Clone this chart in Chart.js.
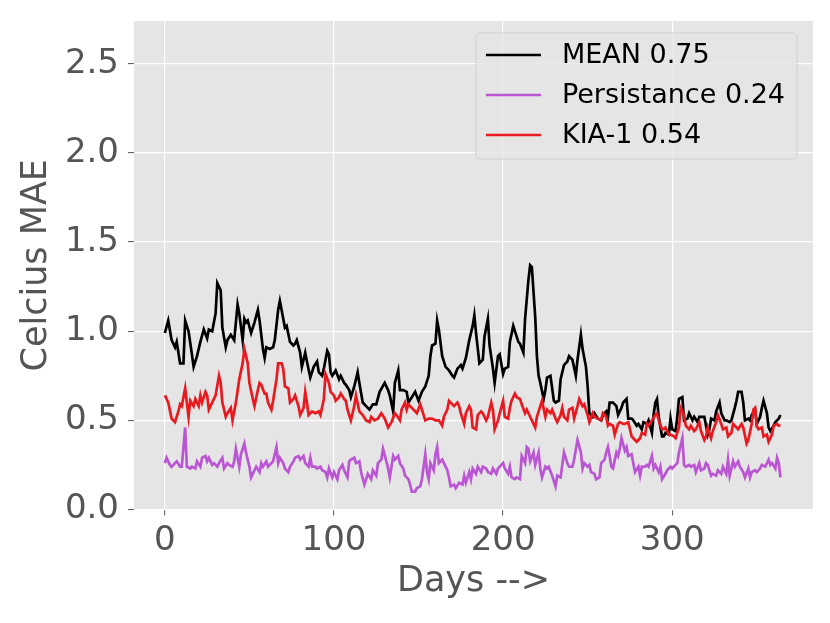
<!DOCTYPE html>
<html>
<head>
<meta charset="utf-8">
<script src="https://cdn.jsdelivr.net/npm/chart.js@4.4.1/dist/chart.umd.min.js"></script>
<style>
  html, body { margin: 0; padding: 0; background: #fff; }
  #wrap { width: 830px; height: 623px; }
</style>
</head>
<body>
<div id="wrap"><canvas id="grafico"></canvas></div>
<script>
// valores (dia, erro medio em Celsius)
const meanDays = [
  0, 2, 4, 6, 7, 9, 11, 12, 14, 16,
  17, 19, 21, 23, 25, 26, 28, 30, 31, 33,
  34, 36, 37, 39, 41, 43, 44, 46, 47, 48,
  49, 51, 53, 55, 56, 58, 59, 60, 62, 64,
  65, 67, 68, 69, 71, 72, 74, 76, 77, 78,
  80, 81, 83, 84, 86, 88, 90, 91, 93, 94,
  96, 97, 98, 99, 101, 103, 104, 106, 107, 109,
  110, 112, 114, 115, 117, 119, 121, 123, 125, 127,
  130, 132, 133, 135, 136, 138, 139, 141, 143, 144,
  146, 148, 150, 152, 154, 156, 157, 158, 160, 161,
  162, 164, 166, 168, 170, 171, 173, 175, 176, 178,
  180, 182, 183, 184, 186, 188, 189, 191, 192, 194,
  195, 197, 198, 200, 201, 203, 204, 206, 207, 209,
  210, 212, 213, 215, 216, 217, 219, 220, 221, 222,
  224, 225, 226, 228, 230, 231, 233, 234, 236, 238,
  239, 241, 243, 244, 246, 247, 249, 250, 251, 253,
  254, 256, 258, 259, 261, 262, 263, 265, 267, 268,
  270, 271, 273, 274, 276, 277, 279, 280, 282, 283,
  285, 286, 288, 289, 290, 291, 292, 294, 295, 296,
  298, 299, 300, 302, 303, 304, 306, 307, 309, 310,
  312, 313, 315, 316, 318, 319, 321, 322, 323, 325,
  326, 328, 329, 331, 332, 334, 335, 337, 338, 339,
  341, 342, 343, 345, 346, 347, 349, 350, 352, 353,
  354, 356, 357, 358, 360, 361, 363, 364
];
const meanMae = [
  0.99, 1.06, 0.95, 0.91, 0.94, 0.82, 0.82, 1.06, 1.00, 0.87,
  0.80, 0.86, 0.94, 1.01, 0.96, 1.01, 1.00, 1.10, 1.27, 1.23,
  1.02, 0.91, 0.95, 0.98, 0.95, 1.15, 1.10, 0.95, 1.07, 1.05,
  1.06, 0.99, 1.05, 1.12, 1.06, 0.90, 0.85, 0.91, 0.90, 0.91,
  0.95, 1.12, 1.17, 1.12, 1.02, 1.03, 0.94, 0.92, 0.93, 0.95,
  0.88, 0.80, 0.88, 0.83, 0.74, 0.80, 0.83, 0.77, 0.75, 0.79,
  0.89, 0.87, 0.77, 0.75, 0.78, 0.73, 0.75, 0.71, 0.70, 0.67,
  0.63, 0.69, 0.77, 0.71, 0.60, 0.58, 0.56, 0.59, 0.59, 0.66,
  0.71, 0.67, 0.64, 0.55, 0.71, 0.78, 0.67, 0.67, 0.66, 0.60,
  0.63, 0.66, 0.61, 0.66, 0.69, 0.75, 0.86, 0.92, 0.93, 1.06,
  1.01, 0.86, 0.80, 0.78, 0.75, 0.74, 0.79, 0.81, 0.79, 0.85,
  0.95, 1.03, 1.09, 0.99, 0.82, 0.84, 0.97, 1.07, 0.92, 0.79,
  0.71, 0.86, 0.87, 0.76, 0.79, 0.80, 0.94, 1.03, 1.00, 0.94,
  0.93, 0.88, 1.07, 1.29, 1.37, 1.36, 1.08, 0.86, 0.75, 0.71,
  0.62, 0.67, 0.74, 0.75, 0.61, 0.60, 0.61, 0.73, 0.81, 0.83,
  0.86, 0.84, 0.75, 0.84, 0.98, 0.90, 0.80, 0.69, 0.54, 0.52,
  0.54, 0.51, 0.50, 0.53, 0.55, 0.52, 0.60, 0.60, 0.58, 0.53,
  0.57, 0.60, 0.62, 0.51, 0.51, 0.50, 0.47, 0.48, 0.45, 0.49,
  0.48, 0.50, 0.43, 0.53, 0.60, 0.62, 0.52, 0.41, 0.41, 0.43,
  0.42, 0.51, 0.45, 0.44, 0.52, 0.62, 0.63, 0.50, 0.51, 0.54,
  0.50, 0.52, 0.49, 0.52, 0.52, 0.52, 0.42, 0.45, 0.51, 0.50,
  0.55, 0.60, 0.54, 0.50, 0.50, 0.49, 0.50, 0.57, 0.61, 0.66,
  0.66, 0.60, 0.50, 0.51, 0.50, 0.53, 0.56, 0.48, 0.52, 0.57,
  0.61, 0.54, 0.46, 0.44, 0.47, 0.49, 0.51, 0.53
];

const persDays = [
  0, 1, 3, 4, 6, 7, 9, 10, 12, 13,
  15, 16, 18, 19, 21, 22, 24, 25, 26, 28,
  29, 31, 32, 34, 35, 37, 38, 40, 41, 42,
  44, 45, 47, 48, 50, 51, 53, 54, 56, 57,
  58, 60, 61, 63, 64, 66, 67, 68, 70, 71,
  73, 74, 76, 77, 79, 80, 82, 83, 85, 86,
  87, 89, 90, 92, 93, 95, 96, 97, 99, 100,
  102, 103, 105, 106, 108, 109, 110, 112, 113, 115,
  116, 118, 120, 122, 123, 125, 126, 128, 129, 131,
  132, 133, 135, 136, 138, 139, 141, 142, 144, 145,
  146, 148, 149, 151, 152, 154, 155, 156, 157, 159,
  160, 161, 162, 164, 165, 167, 168, 169, 171, 172,
  174, 176, 177, 178, 180, 181, 182, 184, 185, 187,
  188, 190, 191, 193, 194, 196, 197, 199, 200, 201,
  203, 204, 205, 207, 208, 210, 211, 213, 214, 215,
  216, 218, 219, 221, 222, 223, 225, 226, 227, 229,
  231, 232, 234, 235, 236, 238, 239, 241, 242, 244,
  246, 247, 248, 250, 251, 252, 254, 255, 257, 258,
  260, 261, 262, 263, 264, 265, 267, 268, 269, 270,
  272, 273, 274, 276, 277, 278, 280, 281, 282, 284,
  285, 286, 288, 289, 290, 292, 293, 294, 296, 297,
  299, 300, 302, 303, 304, 306, 307, 308, 310, 311,
  313, 314, 316, 317, 319, 320, 321, 323, 324, 326,
  327, 329, 330, 332, 333, 334, 336, 337, 339, 340,
  342, 343, 345, 346, 347, 349, 350, 352, 353, 355,
  357, 358, 359, 361, 362, 363, 364
];
const persMae = [
  0.26, 0.29, 0.25, 0.24, 0.26, 0.27, 0.24, 0.24, 0.46, 0.24,
  0.23, 0.24, 0.23, 0.27, 0.24, 0.29, 0.30, 0.27, 0.29, 0.25,
  0.26, 0.24, 0.26, 0.29, 0.23, 0.26, 0.25, 0.24, 0.27, 0.34,
  0.24, 0.31, 0.37, 0.32, 0.24, 0.18, 0.22, 0.24, 0.21, 0.26,
  0.24, 0.27, 0.24, 0.26, 0.27, 0.35, 0.26, 0.29, 0.26, 0.23,
  0.21, 0.24, 0.27, 0.29, 0.30, 0.28, 0.30, 0.26, 0.24, 0.29,
  0.24, 0.24, 0.23, 0.24, 0.22, 0.21, 0.18, 0.23, 0.18, 0.21,
  0.17, 0.22, 0.25, 0.22, 0.18, 0.27, 0.28, 0.29, 0.26, 0.27,
  0.21, 0.14, 0.20, 0.17, 0.22, 0.19, 0.26, 0.28, 0.34, 0.27,
  0.23, 0.18, 0.30, 0.28, 0.30, 0.26, 0.23, 0.19, 0.17, 0.14,
  0.10, 0.10, 0.12, 0.13, 0.17, 0.31, 0.21, 0.17, 0.26, 0.22,
  0.31, 0.35, 0.26, 0.28, 0.26, 0.22, 0.18, 0.13, 0.14, 0.12,
  0.15, 0.14, 0.19, 0.15, 0.21, 0.17, 0.23, 0.20, 0.24, 0.21,
  0.24, 0.23, 0.21, 0.20, 0.23, 0.20, 0.23, 0.25, 0.26, 0.23,
  0.20, 0.24, 0.18, 0.17, 0.18, 0.17, 0.30, 0.26, 0.35, 0.34,
  0.27, 0.32, 0.25, 0.32, 0.23, 0.18, 0.24, 0.23, 0.24, 0.19,
  0.13, 0.19, 0.18, 0.25, 0.32, 0.26, 0.24, 0.24, 0.28, 0.39,
  0.32, 0.23, 0.26, 0.24, 0.25, 0.21, 0.20, 0.17, 0.18, 0.26,
  0.28, 0.32, 0.35, 0.30, 0.24, 0.23, 0.32, 0.30, 0.34, 0.40,
  0.33, 0.35, 0.30, 0.31, 0.26, 0.21, 0.24, 0.19, 0.24, 0.24,
  0.25, 0.24, 0.30, 0.23, 0.25, 0.21, 0.24, 0.17, 0.20, 0.22,
  0.24, 0.23, 0.25, 0.26, 0.32, 0.40, 0.25, 0.24, 0.25, 0.24,
  0.25, 0.21, 0.26, 0.22, 0.23, 0.26, 0.25, 0.19, 0.20, 0.19,
  0.22, 0.20, 0.24, 0.20, 0.28, 0.19, 0.27, 0.24, 0.27, 0.24,
  0.21, 0.18, 0.23, 0.18, 0.21, 0.22, 0.21, 0.23, 0.25, 0.24,
  0.28, 0.25, 0.26, 0.23, 0.29, 0.26, 0.18
];

const kiaDays = [
  0, 2, 4, 6, 8, 9, 10, 12, 14, 15,
  17, 18, 20, 21, 22, 24, 25, 26, 28, 30,
  32, 33, 34, 36, 37, 39, 40, 42, 44, 46,
  47, 49, 50, 52, 53, 55, 56, 57, 59, 60,
  61, 63, 64, 66, 67, 69, 70, 71, 73, 74,
  76, 77, 79, 80, 82, 83, 84, 85, 87, 89,
  91, 92, 94, 95, 97, 98, 100, 101, 103, 104,
  106, 107, 108, 110, 112, 113, 115, 117, 119, 121,
  122, 124, 126, 128, 130, 132, 134, 136, 137, 139,
  140, 142, 143, 144, 145, 147, 149, 151, 152, 154,
  156, 158, 160, 162, 164, 165, 167, 168, 170, 171,
  173, 174, 175, 177, 178, 180, 181, 182, 184, 185,
  187, 188, 190, 191, 193, 194, 195, 197, 198, 200,
  201, 203, 204, 205, 207, 208, 210, 211, 213, 214,
  216, 217, 219, 220, 222, 223, 225, 226, 228, 229,
  231, 232, 234, 235, 236, 238, 239, 241, 242, 244,
  245, 247, 248, 250, 251, 253, 254, 256, 258, 259,
  261, 262, 263, 265, 266, 268, 269, 271, 272, 274,
  275, 276, 278, 279, 281, 282, 284, 285, 286, 288,
  290, 291, 292, 294, 295, 296, 298, 299, 301, 302,
  304, 305, 307, 308, 310, 311, 313, 314, 316, 317,
  319, 320, 321, 323, 324, 326, 327, 329, 330, 332,
  333, 335, 336, 338, 339, 341, 342, 344, 345, 347,
  348, 349, 350, 351, 353, 354, 356, 357, 359, 360,
  362, 363, 364
];
const kiaMae = [
  0.64, 0.60, 0.51, 0.49, 0.55, 0.59, 0.58, 0.68, 0.52, 0.61,
  0.58, 0.62, 0.58, 0.64, 0.60, 0.66, 0.64, 0.56, 0.60, 0.64,
  0.75, 0.71, 0.60, 0.52, 0.54, 0.57, 0.50, 0.60, 0.73, 0.82,
  0.90, 0.82, 0.71, 0.62, 0.58, 0.67, 0.71, 0.70, 0.65, 0.65,
  0.60, 0.56, 0.61, 0.73, 0.82, 0.82, 0.79, 0.69, 0.68, 0.60,
  0.62, 0.64, 0.58, 0.53, 0.57, 0.66, 0.60, 0.53, 0.55, 0.54,
  0.55, 0.53, 0.62, 0.76, 0.71, 0.66, 0.64, 0.61, 0.63, 0.65,
  0.62, 0.61, 0.56, 0.50, 0.58, 0.64, 0.55, 0.53, 0.50, 0.49,
  0.52, 0.50, 0.51, 0.54, 0.51, 0.46, 0.49, 0.54, 0.53, 0.50,
  0.56, 0.60, 0.56, 0.59, 0.58, 0.56, 0.54, 0.59, 0.56, 0.50,
  0.51, 0.51, 0.50, 0.50, 0.47, 0.52, 0.56, 0.61, 0.59, 0.58,
  0.60, 0.58, 0.54, 0.48, 0.54, 0.58, 0.56, 0.46, 0.45, 0.53,
  0.55, 0.54, 0.50, 0.52, 0.60, 0.56, 0.45, 0.50, 0.54, 0.61,
  0.52, 0.51, 0.57, 0.61, 0.65, 0.63, 0.62, 0.59, 0.54, 0.56,
  0.52, 0.50, 0.46, 0.52, 0.58, 0.61, 0.52, 0.56, 0.54, 0.56,
  0.51, 0.49, 0.53, 0.57, 0.52, 0.50, 0.56, 0.57, 0.51, 0.58,
  0.62, 0.58, 0.59, 0.53, 0.49, 0.54, 0.52, 0.51, 0.50, 0.54,
  0.52, 0.47, 0.48, 0.47, 0.42, 0.48, 0.49, 0.48, 0.48, 0.49,
  0.45, 0.41, 0.39, 0.38, 0.40, 0.43, 0.42, 0.48, 0.47, 0.50,
  0.53, 0.54, 0.50, 0.45, 0.45, 0.46, 0.42, 0.42, 0.41, 0.40,
  0.46, 0.57, 0.53, 0.47, 0.45, 0.47, 0.44, 0.45, 0.49, 0.44,
  0.39, 0.41, 0.46, 0.40, 0.44, 0.49, 0.53, 0.48, 0.45, 0.46,
  0.41, 0.43, 0.48, 0.46, 0.45, 0.48, 0.46, 0.37, 0.39, 0.48,
  0.56, 0.57, 0.47, 0.45, 0.46, 0.41, 0.42, 0.38, 0.42, 0.47,
  0.48, 0.47, 0.47
];

const legendas = ['MEAN 0.75', 'Persistance 0.24', 'KIA-1 0.54'];
const cores = ['#000000', '#ba55d3', '#e8191f'];

const xTicks = [0, 100, 200, 300];
const yTicks = [0, 0.5, 1.0, 1.5, 2.0, 2.5];

const fonte = 'DejaVu Sans';
const espessura = 2.7;

function pontos(dias, valores) {
    return dias.map((d, i) => ({ x: d, y: valores[i] }));
}

// fundo branco e area do grafico cinza (estilo ggplot)
const fundo = {
    id: 'fundo',
    beforeDraw(chart) {
        const { ctx, chartArea: a } = chart;
        ctx.save();
        ctx.fillStyle = '#ffffff';
        ctx.fillRect(0, 0, chart.width, chart.height);
        ctx.fillStyle = '#e5e5e5';
        ctx.fillRect(a.left, a.top, a.right - a.left, a.bottom - a.top);
        ctx.restore();
    }
};

// legenda dentro da area do grafico, canto superior direito
const legendaDentro = {
    id: 'legendaDentro',
    afterDatasetsDraw(chart) {
        const { ctx, chartArea: a } = chart;
        ctx.save();
        ctx.font = '27px "' + fonte + '"';
        let larguraTexto = 0;
        chart.data.datasets.forEach(ds => {
            larguraTexto = Math.max(larguraTexto, ctx.measureText(ds.label).width);
        });
        const largura = 86 + larguraTexto + 12;
        const altura = 126;
        const x0 = a.right - 16 - largura;
        const y0 = a.top + 12;

        ctx.beginPath();
        ctx.roundRect(x0, y0, largura, altura, 5);
        ctx.fillStyle = 'rgba(229,229,229,0.8)';
        ctx.fill();
        ctx.lineWidth = 1;
        ctx.strokeStyle = 'rgba(204,204,204,0.8)';
        ctx.stroke();

        chart.data.datasets.forEach((ds, i) => {
            const y = y0 + 22 + i * 40;
            ctx.beginPath();
            ctx.moveTo(x0 + 10, y);
            ctx.lineTo(x0 + 65, y);
            ctx.strokeStyle = ds.borderColor;
            ctx.lineWidth = espessura;
            ctx.stroke();
            ctx.fillStyle = '#000';
            ctx.textBaseline = 'middle';
            ctx.textAlign = 'left';
            ctx.fillText(ds.label, x0 + 86, y + 1);
        });
        ctx.restore();
    }
};

const grafico = document.getElementById('grafico');
const graficoMae = new Chart(grafico, {
    type: 'line',
    data: {
        datasets: [
            { label: legendas[0], data: pontos(meanDays, meanMae), borderColor: cores[0], order: 3 },
            { label: legendas[1], data: pontos(persDays, persMae), borderColor: cores[1], order: 2 },
            { label: legendas[2], data: pontos(kiaDays, kiaMae), borderColor: cores[2], order: 1 }
        ]
    },
    options: {
        responsive: true,
        maintainAspectRatio: false,
        animation: false,
        layout: { padding: { top: 21, right: 17, left: 0, bottom: 0 } },
        elements: {
            point: { radius: 0 },
            line: { borderWidth: espessura, tension: 0, fill: false }
        },
        plugins: {
            legend: { display: false },
            tooltip: { enabled: false }
        },
        scales: {
            x: {
                type: 'linear',
                min: -18.25,
                max: 383.25,
                border: { display: false },
                grid: { color: '#ffffff', lineWidth: 1.2, tickColor: '#555555', tickLength: 6, tickWidth: 1 },
                ticks: {
                    maxRotation: 0,
                    autoSkip: false,
                    color: '#555555',
                    padding: 5,
                    font: { family: fonte, size: 34 }
                },
                title: {
                    display: true,
                    text: 'Days -->',
                    color: '#555555',
                    font: { family: fonte, size: 35, lineHeight: 1.2 },
                    padding: { top: 0, bottom: 20 }
                },
                afterBuildTicks(scale) { scale.ticks = xTicks.map(v => ({ value: v })); },
                afterFit(scale) {
                    scale.height = 113.5;
                    scale.paddingLeft = 0;
                    scale.paddingRight = 0;
                }
            },
            y: {
                min: 0,
                max: 2.74,
                border: { display: false },
                grid: { color: '#ffffff', lineWidth: 1.2, tickColor: '#555555', tickLength: 6, tickWidth: 1 },
                ticks: {
                    autoSkip: false,
                    color: '#555555',
                    padding: 9,
                    font: { family: fonte, size: 34 },
                    callback: v => v.toFixed(1)
                },
                title: {
                    display: true,
                    text: 'Celcius MAE',
                    color: '#555555',
                    font: { family: fonte, size: 35, lineHeight: 1.2 },
                    padding: { top: 16, bottom: 0 }
                },
                afterBuildTicks(scale) { scale.ticks = yTicks.map(v => ({ value: v })); },
                afterFit(scale) {
                    scale.width = 134;
                    scale.paddingTop = 0;
                    scale.paddingBottom = 0;
                }
            }
        }
    },
    plugins: [fundo, legendaDentro]
});
</script>
</body>
</html>
